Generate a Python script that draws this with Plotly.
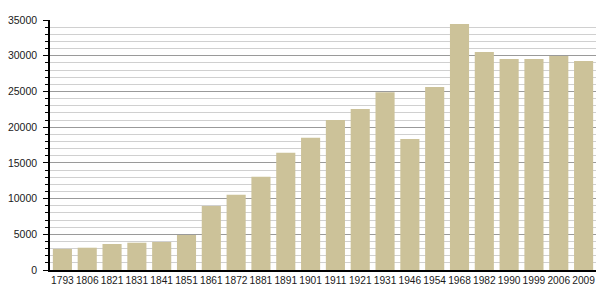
import plotly.graph_objects as go

years = ["1793", "1806", "1821", "1831", "1841", "1851", "1861", "1872", "1881", "1891",
         "1901", "1911", "1921", "1931", "1946", "1954", "1968", "1982", "1990", "1999",
         "2006", "2009"]
population = [2950, 3120, 3640, 3820, 3920, 4900, 8960, 10540, 13070, 16430,
              18520, 21000, 22540, 24870, 18340, 25620, 34440, 30520, 29540, 29540,
              29960, 29260]
y_ticks = [0, 5000, 10000, 15000, 20000, 25000, 30000, 35000]

fig = go.Figure(go.Bar(
    x=years, y=population,
    marker=dict(color="rgb(204,194,153)", line=dict(width=0)),
))

fig.update_layout(
    width=605, height=300,
    margin=dict(l=50, r=9, t=20, b=30),
    paper_bgcolor="white", plot_bgcolor="white",
    bargap=0.23,
    showlegend=False,
    font=dict(family="Liberation Sans, Arial, sans-serif", size=10, color="#1a1a1a"),
)
fig.update_yaxes(
    range=[0, 35000], tickvals=y_ticks, ticktext=[str(v) for v in y_ticks],
    tickfont=dict(size=10.5),
    showgrid=True, gridcolor="#9a9a9a", gridwidth=1,
    showline=True, linecolor="black", linewidth=1.5,
    ticks="outside", ticklen=5, tickcolor="black", tickwidth=1,
    minor=dict(dtick=1000, showgrid=True, gridcolor="#d0d0d0", gridwidth=1,
               ticks="outside", ticklen=3, tickcolor="black"),
    zeroline=False,
    ticklabelstandoff=4,
)
fig.update_xaxes(
    showline=True, linecolor="black", linewidth=1.5,
    ticks="", showgrid=False, tickangle=0,
    tickfont=dict(size=10.2),
    ticklabelstandoff=0,
)

fig.write_html("out.html")
